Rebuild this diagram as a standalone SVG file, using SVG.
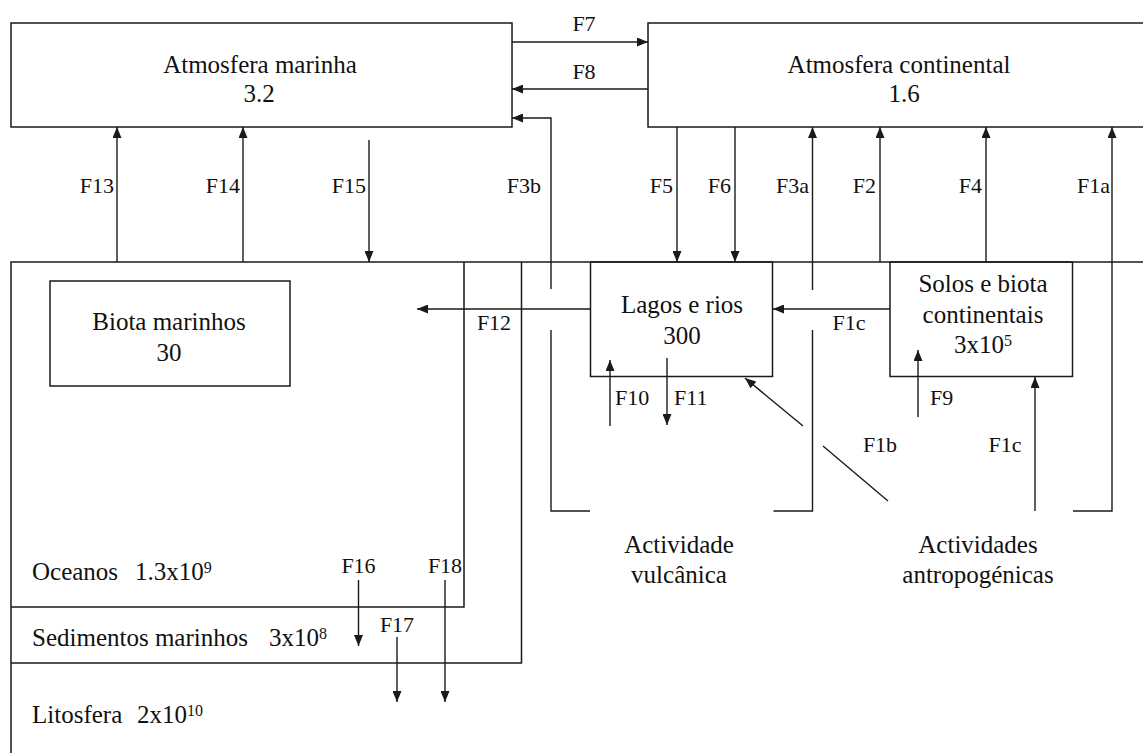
<svg xmlns="http://www.w3.org/2000/svg" width="1143" height="753" viewBox="0 0 1143 753">
<defs>
<style>
.box{fill:none;stroke:#1a1a1a;stroke-width:1.5}
.ln{fill:none;stroke:#1a1a1a;stroke-width:1.4}
.arr{fill:none;stroke:#1a1a1a;stroke-width:1.4;marker-end:url(#ah)}
.t{font-family:"Liberation Serif","Times New Roman",serif;font-size:25px;fill:#111}
.c{text-anchor:middle}
.lb{font-family:"Liberation Serif","Times New Roman",serif;font-size:22px;fill:#111}
.e{text-anchor:end}
.sup{font-size:16px}
</style>
<marker id="ah" viewBox="0 0 11 9" refX="11" refY="4.5" markerWidth="11" markerHeight="9" markerUnits="userSpaceOnUse" orient="auto">
<path d="M0,0 L11,4.5 L0,9 z" fill="#1a1a1a"/>
</marker>
</defs>
<rect width="1143" height="753" fill="#ffffff"/>

<g id="atm-marinha">
<rect class="box" x="11" y="23" width="501" height="104"/>
<text class="t c" x="260" y="73">Atmosfera marinha</text>
<text class="t c" x="259" y="102">3.2</text>
</g>

<g id="atm-continental">
<rect class="box" x="648" y="23" width="510" height="104"/>
<text class="t c" x="899" y="73">Atmosfera continental</text>
<text class="t c" x="904" y="102">1.6</text>
</g>

<g id="litosfera">
<path class="box" d="M1150,262 L11,262 L11,760"/>
<text class="t" x="32" y="723">Litosfera<tspan x="137">2x10</tspan><tspan class="sup" dy="-7">10</tspan></text>
</g>

<g id="sedimentos">
<path class="box" d="M11,663 L521.5,663 L521.5,262"/>
<text class="t" x="32" y="646">Sedimentos marinhos<tspan x="269">3x10</tspan><tspan class="sup" dy="-7">8</tspan></text>
</g>

<g id="oceanos">
<path class="box" d="M11,607 L464,607 L464,262"/>
<text class="t" x="32" y="580">Oceanos<tspan x="135">1.3x10</tspan><tspan class="sup" dy="-7">9</tspan></text>
</g>

<g id="biota-marinhos">
<rect class="box" x="50" y="281" width="240" height="105"/>
<text class="t c" x="169" y="330">Biota marinhos</text>
<text class="t c" x="169" y="361">30</text>
</g>

<g id="lagos-rios">
<rect class="box" x="590.5" y="262" width="182" height="114.5"/>
<text class="t c" x="682" y="313">Lagos e rios</text>
<text class="t c" x="682" y="344">300</text>
</g>

<g id="solos-biota">
<rect class="box" x="890" y="262" width="182.5" height="114.5"/>
<text class="t c" x="983" y="292">Solos e biota</text>
<text class="t c" x="983" y="323">continentais</text>
<text class="t c" x="983" y="353">3x10<tspan class="sup" dy="-7">5</tspan></text>
</g>

<g id="actividade-vulcanica">
<text class="t c" x="679" y="553">Actividade</text>
<text class="t c" x="679" y="583">vulcânica</text>
</g>

<g id="actividades-antropogenicas">
<text class="t c" x="978" y="553">Actividades</text>
<text class="t c" x="978" y="583">antropogénicas</text>
</g>

<g id="connectors">
<line class="arr" x1="512" y1="42" x2="648" y2="42"/>
<text class="lb c" x="584" y="31">F7</text>
<line class="arr" x1="648" y1="89" x2="512" y2="89"/>
<text class="lb c" x="584" y="79">F8</text>

<path class="arr" d="M551,289 L551,118 L512,118"/>
<path class="ln" d="M551,330 L551,511 L590,511"/>
<text class="lb e" x="541" y="193">F3b</text>

<line class="arr" x1="117" y1="262" x2="117" y2="127"/>
<text class="lb e" x="114" y="193">F13</text>
<line class="arr" x1="243" y1="262" x2="243" y2="127"/>
<text class="lb e" x="240" y="193">F14</text>
<line class="arr" x1="369" y1="140" x2="369" y2="262"/>
<text class="lb e" x="366" y="193">F15</text>

<line class="arr" x1="677" y1="127" x2="677" y2="262"/>
<text class="lb e" x="673" y="193">F5</text>
<line class="arr" x1="735" y1="127" x2="735" y2="262"/>
<text class="lb e" x="731" y="193">F6</text>

<path class="ln" d="M773.5,511 L812.5,511 L812.5,330"/>
<path class="arr" d="M812.5,290 L812.5,127"/>
<text class="lb e" x="809" y="193">F3a</text>

<line class="arr" x1="880" y1="262" x2="880" y2="127"/>
<text class="lb e" x="876" y="193">F2</text>
<line class="arr" x1="986" y1="262" x2="986" y2="127"/>
<text class="lb e" x="982" y="193">F4</text>
<path class="arr" d="M1073,511 L1112,511 L1112,127"/>
<text class="lb e" x="1110" y="193">F1a</text>

<line class="arr" x1="590" y1="309" x2="417" y2="309"/>
<text class="lb c" x="494" y="330">F12</text>
<line class="arr" x1="890" y1="309" x2="773" y2="309"/>
<text class="lb c" x="849" y="330">F1c</text>

<line class="arr" x1="610" y1="426" x2="610" y2="360"/>
<text class="lb" x="615" y="405">F10</text>
<line class="arr" x1="667" y1="358" x2="667" y2="425"/>
<text class="lb" x="674" y="405">F11</text>

<line class="ln" x1="888" y1="501" x2="823" y2="446"/>
<line class="arr" x1="803" y1="426" x2="745" y2="378"/>
<text class="lb c" x="880" y="452">F1b</text>

<line class="arr" x1="918" y1="417" x2="918" y2="350"/>
<text class="lb" x="930" y="405">F9</text>
<line class="arr" x1="1035" y1="511" x2="1035" y2="377"/>
<text class="lb c" x="1005" y="452">F1c</text>

<line class="arr" x1="358.5" y1="580" x2="358.5" y2="646"/>
<text class="lb c" x="358.5" y="573">F16</text>
<line class="arr" x1="397" y1="637" x2="397" y2="702"/>
<text class="lb c" x="397" y="632">F17</text>
<line class="arr" x1="445" y1="580" x2="445" y2="702"/>
<text class="lb c" x="445" y="573">F18</text>
</g>
</svg>
